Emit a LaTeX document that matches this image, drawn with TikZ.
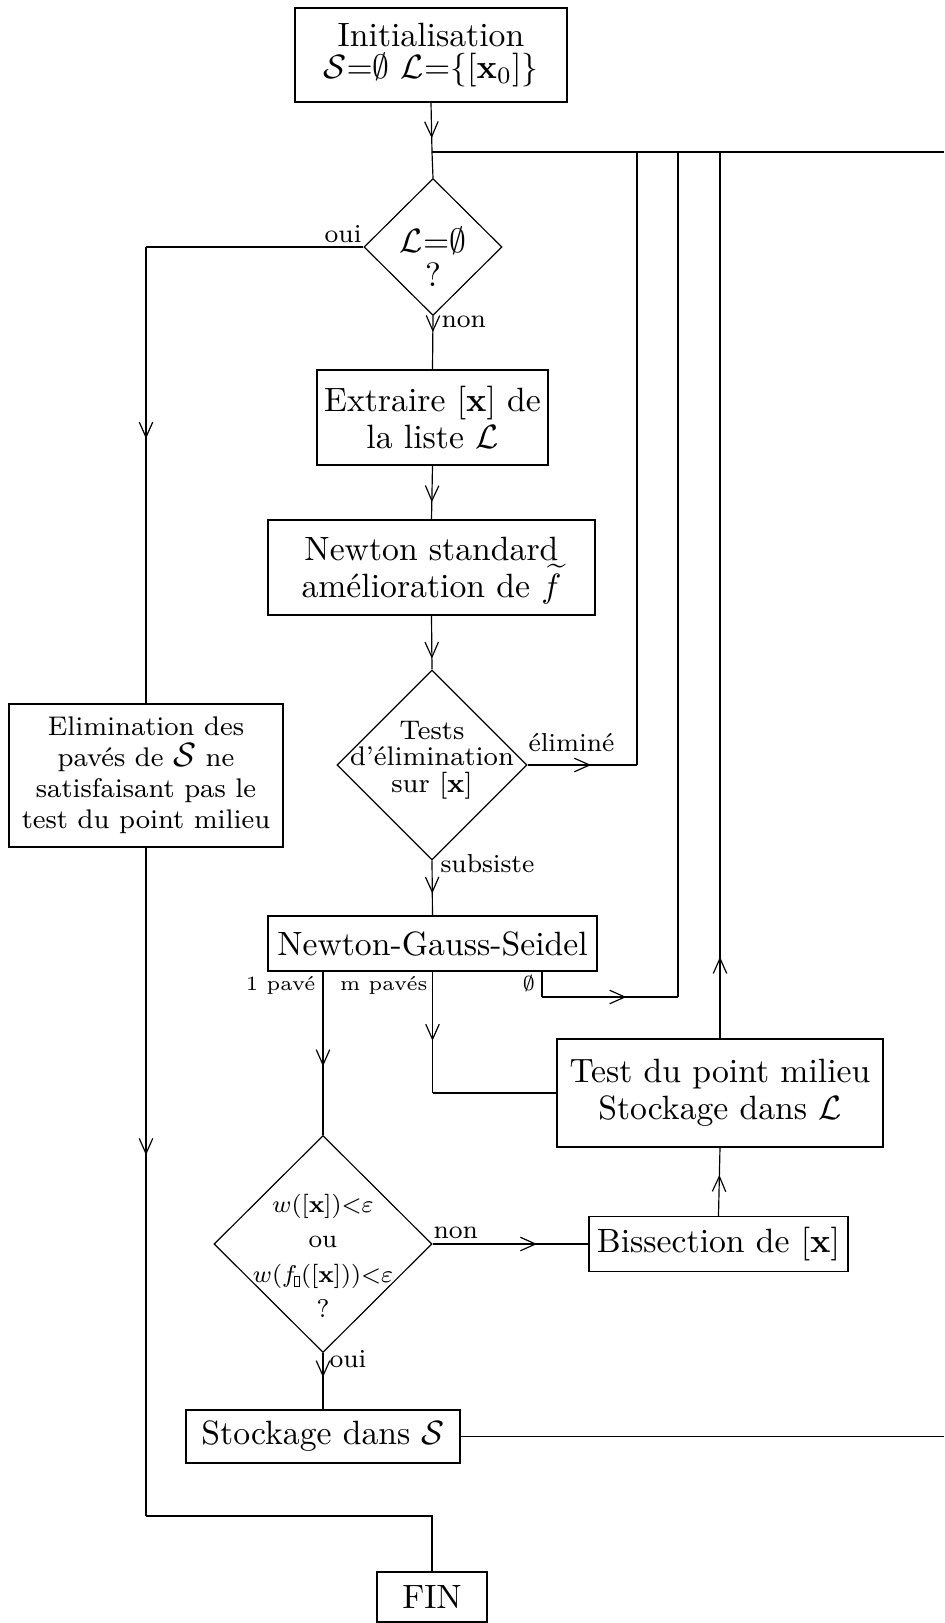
\documentclass[tikz,border=0pt]{standalone}
\usepackage{graphicx}
\usetikzlibrary{shapes.geometric,arrows.meta,decorations.markings}
\newcommand{\pxu}{0.2967pt}
\newcommand{\mytbox}{\hbox{\fboxsep=0pt\fboxrule=0.25pt\fbox{\rule{0pt}{2.8pt}\hspace{1.2pt}}}}
\newcommand{\fInit}{\fontsize{10}{9.6}\selectfont\lineskiplimit=-20pt\relax}
\newcommand{\fB}{\fontsize{10}{11.1}\selectfont\lineskiplimit=-20pt\relax}
\newcommand{\fDa}{\fontsize{10}{10.1}\selectfont\lineskiplimit=-20pt\relax}
\newcommand{\fC}{\fontsize{8}{9.2}\selectfont\lineskiplimit=-20pt\relax}
\newcommand{\fDb}{\fontsize{8}{7.9}\selectfont\lineskiplimit=-20pt\relax}
\newcommand{\fE}{\fontsize{7.6}{10.4}\selectfont\lineskiplimit=-20pt\relax}
\begin{document}
\begin{tikzpicture}[x=0.2967pt,y=-0.2967pt,line width=0.35pt,
  box/.style={draw,rectangle,inner sep=0pt,align=center},
  bxs/.style 2 args={minimum width=#1*\pxu,minimum height=#2*\pxu},
  dia/.style 2 args={draw,diamond,inner sep=0pt,minimum width=#1*\pxu,minimum height=#2*\pxu},
  dtxt/.style={inner sep=0pt,align=center},
  lab/.style={inner sep=0pt,font=\fontsize{7.7}{9}\selectfont},
  labs/.style={inner sep=0pt,font=\fontsize{6}{7}\selectfont},
  arrowat/.style={postaction={decorate},decoration={markings,
    mark=at position #1 with {\arrow{Straight Barb[length=4.5pt,width=4pt]}}}}]
\useasboundingbox (0,0) rectangle (944,1623);
% nodes
\node[box,bxs={272}{94},font=\fInit] (init) at (431,55) {Initialisation\\$\mathcal{S}{=}\emptyset\ \mathcal{L}{=}\{[\mathbf{x}_{0}]\}$};
\coordinate (j) at (432,152);
\coordinate (re) at (944,152);
\node[dia={138}{137}] (d1) at (433,247) {};
\node[dtxt,font=\fDa] (d1t) at (433,257) {$\mathcal{L}{=}\emptyset$\\?};
\node[box,bxs={231}{95},font=\fB] (extr) at (432.5,417.5) {Extraire $[\mathbf{x}]$ de\\la liste $\mathcal{L}$};
\node[box,bxs={327}{95},font=\fB] (newt) at (431.5,567.5) {Newton standard\\amélioration de \smash{$\widetilde{f}$}};
\node[dia={190}{190}] (d2) at (432,765) {};
\node[dtxt,font=\fDb] (d2t) at (432,760) {Tests\\d'élimination\\sur $[\mathbf{x}]$};
\node[box,bxs={329}{55},font=\fB] (ngs) at (432.5,943.5) {Newton-Gauss-Seidel};
\node[box,bxs={326}{108},font=\fB] (test) at (720,1093) {Test du point milieu\\Stockage dans $\mathcal{L}$};
\node[box,bxs={259}{55},font=\fB] (biss) at (718.5,1244) {Bissection de $[\mathbf{x}]$};
\node[dia={218}{217}] (d3) at (323,1244) {};
\node[dtxt,font=\fE] (d3t) at (323,1256) {\scalebox{0.9}{$w([\mathbf{x}]){<}\varepsilon$}\\ou\\\scalebox{0.9}{$w(f_{\mytbox}([\mathbf{x}])){<}\varepsilon$}\\?};
\node[box,bxs={274}{53},font=\fB] (sts) at (323,1436.5) {Stockage dans $\mathcal{S}$};
\node[box,bxs={274}{143},font=\fC] (elim) at (146,775.5) {Elimination des\\pavés de \smash{\fontsize{10}{9}\selectfont$\mathcal{S}$} ne\\satisfaisant pas le\\test du point milieu};
\node[box,bxs={110}{50},font=\fB] (fin) at (432,1597) {FIN};
% labels
\node[lab,anchor=base east] (l1) at (362,242) {oui};
\node[lab,anchor=base west] (l2) at (441,327) {non};
\node[lab,anchor=base west] (l3) at (528,751) {éliminé};
\node[lab,anchor=base west] (l4) at (440,872) {subsiste};
\node[labs,anchor=base east] (l5) at (316,990) {1 pavé};
\node[labs,anchor=base east] (l6) at (428,990) {m pavés};
\node[labs,anchor=base east] (l7) at (536,990) {$\emptyset$};
\node[lab,anchor=base west] (l8) at (433,1238) {non};
\node[lab,anchor=base west] (l9) at (329,1367) {oui};
% coordinates
\coordinate (c1) at (elim.north |- d1.west);
\coordinate (c2) at (637,765);
\coordinate (c3) at (542,997);
\coordinate (c4) at (678,997);
\coordinate (c5) at (146,1516);
\coordinate (c6) at (432,1516);
% connectors
\draw[arrowat=0.72] (init.south) -- (j);
\draw (j) -- (d1.north);
\draw (j) -- (re);
\draw[arrowat=0.3] (d1.south) -- (extr.north);
\draw (d1.west) -- (c1);
\draw[arrowat=0.42] (c1) -- (elim.north);
\draw[arrowat=0.68] (extr.south) -- (newt.north);
\draw[arrowat=0.8] (newt.south) -- (d2.north);
\draw[arrowat=0.58] (d2.east) -- (c2);
\draw (c2) -- (c2 |- j);
\draw[arrowat=0.6] (d2.south) -- (ngs.north);
\draw[arrowat=0.58] (d3.north |- ngs.south) -- (d3.north);
\draw[arrowat=0.57] (ngs.south) -- (ngs.south |- test.west);
\draw (ngs.south |- test.west) -- (test.west);
\draw (ngs.south -| c3) -- (c3);
\draw[arrowat=0.62] (c3) -- (c4);
\draw (c4) -- (c4 |- j);
\draw[arrowat=0.092] (test.north) -- (test.north |- j);
\draw[arrowat=0.6] (biss.north) -- (test.south);
\draw[arrowat=0.67] (d3.east) -- (biss.west);
\draw[arrowat=0.43] (d3.south) -- (sts.north);
\draw (sts.east) -- (sts.east -| re);
\draw[arrowat=0.46] (elim.south) -- (c5);
\draw (c5) -- (c6) -- (fin.north);
\end{tikzpicture}
\end{document}
